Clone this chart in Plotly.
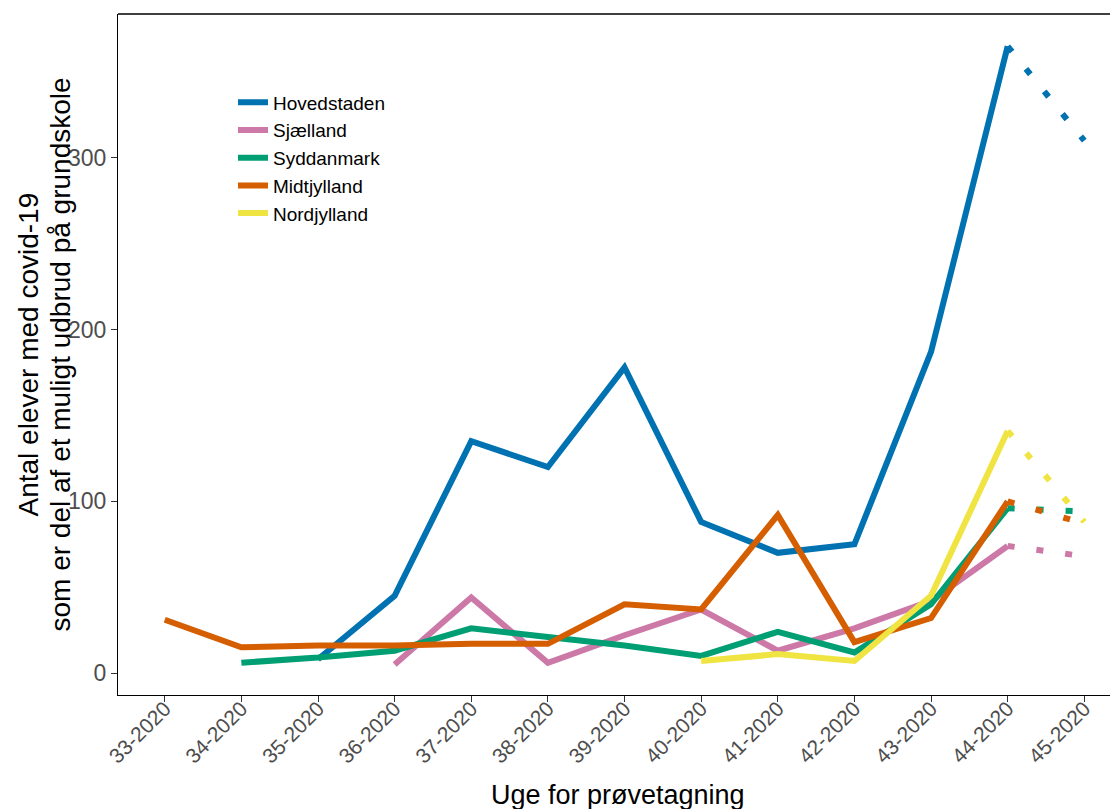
import plotly.graph_objects as go

weeks = ["33-2020", "34-2020", "35-2020", "36-2020", "37-2020", "38-2020", "39-2020",
         "40-2020", "41-2020", "42-2020", "43-2020", "44-2020", "45-2020"]

regions = ["Hovedstaden", "Sjælland", "Syddanmark", "Midtjylland", "Nordjylland"]
colors = ["#0072B2", "#CC79A7", "#009E73", "#D55E00", "#F0E442"]

# solid part (weeks 33..44); None = no data
hovedstaden = [None, None, 8, 45, 135, 120, 178, 88, 70, 75, 187, 365]
sjaelland = [None, None, None, 5, 44, 6, 22, 37, 13, 26, 42, 74]
syddanmark = [None, 6, 9, 13, 26, 21, 16, 10, 24, 12, 40, 96]
midtjylland = [31, 15, 16, 16, 17, 17, 40, 37, 92, 18, 32, 100]
nordjylland = [None, None, None, None, None, None, None, 7, 11, 7, 45, 141]

# incomplete last week (dotted): values at week 44 and 45
dotted = {
    "Hovedstaden": [365, 310],
    "Sjælland": [74, 68],
    "Syddanmark": [96, 94],
    "Midtjylland": [100, 87],
    "Nordjylland": [141, 88],
}

x_title = "Uge for prøvetagning"
y_title_lines = ["Antal elever med covid-19", "som er del af et muligt udbrud på grundskole"]

series = [hovedstaden, sjaelland, syddanmark, midtjylland, nordjylland]

fig = go.Figure()
for name, col, vals in zip(regions, colors, series):
    fig.add_trace(go.Scatter(x=weeks[:12], y=vals, mode="lines", name=name,
                             line=dict(color=col, width=6), connectgaps=False))
for name, col in zip(regions, colors):
    fig.add_trace(go.Scatter(x=weeks[11:13], y=dotted[name], mode="lines", showlegend=False,
                             line=dict(color=col, width=6, dash="7px,22px")))

font = "Liberation Sans, Arial, sans-serif"
# page body has an 8px margin, so the figure is 8px smaller than the window
fig.update_layout(
    width=1110, height=801,
    margin=dict(l=110, r=0, t=6, b=114),
    paper_bgcolor="white", plot_bgcolor="white",
    font=dict(family=font, color="black"),
    legend=dict(x=0.115, y=0.898, xanchor="left", yanchor="top", font=dict(size=19, color="black"),
                bgcolor="rgba(0,0,0,0)", tracegroupgap=0, itemwidth=30),
    xaxis=dict(
        type="category", categoryorder="array", categoryarray=weeks,
        range=[-0.61, 12.44], showgrid=False, zeroline=False, automargin=False,
        showline=True, linecolor="black", linewidth=1.3,
        ticks="outside", ticklen=6, tickcolor="#333333", tickangle=-45,
        tickfont=dict(size=21, color="#4d4d4d"), ticklabelstandoff=-14,
    ),
    yaxis=dict(
        range=[-12.8, 383.8], tickvals=[0, 100, 200, 300], showgrid=False, zeroline=False,
        automargin=False,
        showline=True, linecolor="black", linewidth=1.3,
        ticks="outside", ticklen=6, tickcolor="#333333",
        tickfont=dict(size=23, color="#4d4d4d"),
    ),
)
fig.add_shape(type="line", xref="paper", yref="paper", x0=0, x1=1, y0=1, y1=1,
              line=dict(color="black", width=1.3))
# axis titles
fig.add_annotation(text=x_title, xref="paper", yref="paper", x=0.5, y=-0.147,
                   xanchor="center", yanchor="middle", showarrow=False,
                   font=dict(size=27, color="black"))
for xp, line in zip([-0.09, -0.058], y_title_lines):
    fig.add_annotation(text=line, xref="paper", yref="paper", x=xp, y=0.5,
                       xanchor="center", yanchor="middle", textangle=-90, showarrow=False,
                       font=dict(size=28, color="black"))
fig.write_html("out.html")
